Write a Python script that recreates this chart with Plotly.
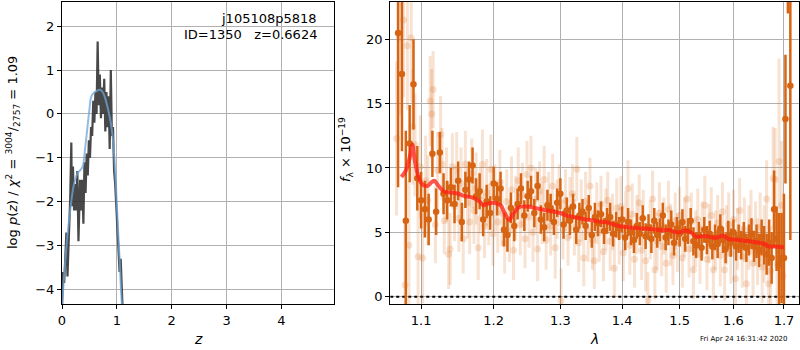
import plotly.graph_objects as go

# ---------------- left panel: redshift PDF ----------------
z_pz = [0.00, 0.02, 0.04, 0.06, 0.08, 0.10, 0.12, 0.14, 0.15, 0.17,
        0.18, 0.20, 0.22, 0.24, 0.26, 0.28, 0.30, 0.33, 0.35, 0.37,
        0.39, 0.41, 0.43, 0.45, 0.47, 0.49, 0.51, 0.53, 0.55, 0.57,
        0.59, 0.61, 0.63, 0.65, 0.67, 0.69, 0.71, 0.73, 0.75, 0.77,
        0.79, 0.81, 0.83, 0.85, 0.87, 0.89, 0.91, 0.93, 0.95, 0.97,
        0.99, 1.01, 1.03, 1.05, 1.07, 1.09, 1.11]
logp = [-4.4, -3.6, -3.85, -3.4, -2.7, -3.7, -3.0, -2.3, -1.9, -0.65,
        -2.1, -1.2, -2.2, -1.6, -2.2, -1.3, -2.9, -1.5, -2.2, -1.5,
        -2.5, -1.1, -1.8, -0.9, -1.4, -0.6, -1.0, -0.3, -0.5, 0.3,
        -0.2, 0.5, 0.0, 1.65, 0.2, 0.9, -0.1, 0.6, 0.0, 0.8,
        -0.4, 0.5, -0.3, 0.4, -0.8, 1.0, -0.5, -0.3, -1.3, -1.6,
        -2.1, -2.6, -3.1, -3.6, -3.3, -4.0, -4.6]

z_smooth = [0.00, 0.05, 0.11, 0.15, 0.20, 0.25, 0.29, 0.34, 0.38, 0.42,
            0.46, 0.50, 0.535, 0.58, 0.63, 0.69, 0.74, 0.79, 0.84, 0.89,
            0.93, 0.96, 0.99, 1.02, 1.05, 1.08, 1.11]
logp_smooth = [-4.4, -3.5, -2.63, -2.2, -1.72, -1.45, -1.34, -1.27, -1.19, -0.8,
               -0.35, 0.1, 0.4, 0.48, 0.52, 0.55, 0.5, 0.35, 0.1, -0.2,
               -0.6, -1.1, -1.8, -2.6, -3.3, -4.1, -4.6]

# ---------------- right panel: spectrum ----------------
lam_dark = [1.070, 1.075, 1.080, 1.085, 1.090, 1.095, 1.100, 1.105, 1.110, 1.115,
            1.120, 1.125, 1.130, 1.135, 1.140, 1.145, 1.150, 1.155, 1.160, 1.165,
            1.170, 1.175, 1.180, 1.185, 1.190, 1.195, 1.200, 1.205, 1.210, 1.215,
            1.220, 1.225, 1.230, 1.235, 1.240, 1.245, 1.250, 1.255, 1.260, 1.265,
            1.270, 1.275, 1.280, 1.285, 1.290, 1.295, 1.300, 1.305, 1.310, 1.315,
            1.320, 1.325, 1.330, 1.335, 1.340, 1.345, 1.350, 1.355, 1.360, 1.365,
            1.370, 1.375, 1.380, 1.385, 1.390, 1.395, 1.400, 1.405, 1.410, 1.415,
            1.420, 1.425, 1.430, 1.435, 1.440, 1.445, 1.450, 1.455, 1.460, 1.465,
            1.470, 1.475, 1.480, 1.485, 1.490, 1.495, 1.500, 1.505, 1.510, 1.515,
            1.520, 1.525, 1.530, 1.535, 1.540, 1.545, 1.550, 1.555, 1.560, 1.565,
            1.570, 1.575, 1.580, 1.585, 1.590, 1.595, 1.600, 1.605, 1.610, 1.615,
            1.620, 1.625, 1.630, 1.635, 1.640, 1.645, 1.650, 1.655, 1.660, 1.665,
            1.670, 1.675, 1.680, 1.685, 1.690, 1.695, 1.700, 1.703, 1.708, 1.713]
flux_dark = [20.5, 17.3, 5.9, 11.9, 16.5, 9.2, 7.5, 6.8, 6.0, 11.1,
             6.6, 11.2, 8.0, 7.5, 8.5, 7.2, 9.0, 5.8, 8.3, 9.1,
             10.2, 7.8, 8.2, 6.0, 7.4, 6.5, 8.8, 7.6, 8.4, 5.2,
             4.8, 6.9, 5.5, 7.2, 8.4, 6.3, 7.8, 8.2, 6.5, 8.6,
             6.0, 5.4, 7.1, 6.9, 5.8, 7.3, 8.0, 5.6, 6.7, 5.9,
             7.0, 5.2, 6.3, 6.6, 5.5, 6.9, 4.8, 6.2, 5.7, 6.4,
             5.1, 5.9, 6.2, 4.9, 5.6, 5.3, 6.0, 4.6, 5.8, 5.0,
             4.4, 5.5, 4.9, 6.1, 4.7, 5.4, 4.5, 5.9, 4.8, 5.2,
             6.3, 4.6, 5.0, 5.6, 4.2, 5.3, 4.9, 5.8, 4.5, 5.1,
             5.9, 4.3, 4.0, 4.8, 3.8, 5.2, 4.4, 4.9, 3.9, 4.6,
             4.1, 5.3, 4.4, 3.7, 4.8, 4.2, 5.0, 3.9, 4.5, 4.0,
             4.7, 3.8, 4.4, 4.9, 3.9, 4.3, 3.6, 4.6, 4.0, 3.3,
             4.2, 3.0, 6.8, 4.5, 2.5, 3.0, 3.0, 13.8, 30.0, 16.4]
err_dark = [12.0, 6.0, 7.0, 3.0, 3.5, 2.5, 2.2, 2.2, 2.0, 1.8,
            1.8, 1.6, 1.6, 1.5, 1.5, 1.5, 1.5, 1.5, 1.4, 1.4,
            1.4, 1.4, 1.4, 1.3, 1.3, 1.3, 1.3, 1.3, 1.3, 1.3,
            1.3, 1.2, 1.2, 1.2, 1.2, 1.2, 1.2, 1.2, 1.1, 1.1,
            1.1, 1.1, 1.2, 1.1, 1.0, 1.1, 1.2, 1.1, 1.0, 1.1,
            1.0, 1.1, 1.0, 1.0, 1.1, 1.0, 1.0, 1.1, 1.0, 1.0,
            1.0, 1.0, 1.1, 1.0, 1.0, 0.9, 1.0, 1.0, 1.1, 1.0,
            1.0, 1.0, 0.9, 1.0, 1.0, 1.0, 1.1, 1.0, 1.0, 0.9,
            1.0, 1.0, 1.0, 1.1, 1.0, 0.9, 1.0, 1.0, 1.0, 1.0,
            1.0, 1.1, 1.0, 1.0, 1.0, 1.0, 1.1, 1.0, 1.0, 1.0,
            1.1, 1.1, 1.0, 1.1, 1.1, 1.1, 1.0, 1.1, 1.1, 1.1,
            1.1, 1.1, 1.2, 1.2, 1.2, 1.3, 1.3, 1.4, 1.5, 1.6,
            1.8, 2.0, 3.0, 2.5, 4.0, 3.5, 5.0, 5.0, 8.0, 12.0]

lam_light = [1.068, 1.072, 1.077, 1.079, 1.082, 1.084, 1.087, 1.089, 1.092, 1.096,
             1.099, 1.102, 1.106, 1.109, 1.112, 1.114, 1.116, 1.119, 1.122, 1.126,
             1.128, 1.131, 1.134, 1.137, 1.139, 1.142, 1.145, 1.148, 1.151, 1.154,
             1.157, 1.160, 1.163, 1.166, 1.169, 1.172, 1.175, 1.178, 1.181, 1.184,
             1.187, 1.190, 1.193, 1.196, 1.199, 1.202, 1.206, 1.209, 1.212, 1.216,
             1.219, 1.223, 1.226, 1.229, 1.232, 1.236, 1.239, 1.242, 1.246, 1.249,
             1.252, 1.255, 1.258, 1.262, 1.265, 1.268, 1.272, 1.275, 1.278, 1.282,
             1.285, 1.288, 1.292, 1.295, 1.298, 1.301, 1.304, 1.308, 1.312, 1.315,
             1.319, 1.322, 1.326, 1.329, 1.333, 1.337, 1.340, 1.344, 1.347, 1.351,
             1.354, 1.358, 1.362, 1.365, 1.369, 1.373, 1.376, 1.380, 1.384, 1.387,
             1.391, 1.395, 1.398, 1.402, 1.406, 1.410, 1.413, 1.417, 1.421, 1.425,
             1.429, 1.433, 1.436, 1.440, 1.444, 1.448, 1.452, 1.456, 1.460, 1.464,
             1.468, 1.472, 1.476, 1.480, 1.484, 1.488, 1.492, 1.496, 1.500, 1.505,
             1.509, 1.513, 1.517, 1.521, 1.525, 1.529, 1.533, 1.537, 1.541, 1.546,
             1.550, 1.554, 1.558, 1.562, 1.566, 1.570, 1.575, 1.579, 1.583, 1.587,
             1.591, 1.595, 1.600, 1.604, 1.608, 1.612, 1.617, 1.621, 1.625, 1.630,
             1.634, 1.638, 1.643, 1.647, 1.652, 1.656, 1.660, 1.665, 1.669, 1.673,
             1.678, 1.682, 1.686, 1.690, 1.695, 1.698]
flux_light = [12.3, 20.1, 21.5, 0.9, 19.5, 4.0, 20.1, 13.2, 11.8, 3.1,
              10.1, 3.0, 9.0, 7.5, 15.2, 14.2, 16.1, 5.6, 9.8, 12.6,
              10.3, 5.9, 8.7, 3.3, 3.7, 10.1, 7.0, 9.9, 6.1, 8.8,
              4.5, 10.3, 7.3, 5.8, 9.6, 6.7, 8.4, 3.8, 7.5, 10.3,
              5.5, 8.1, 6.4, 9.9, 4.9, 7.7, 5.8, 8.9, 6.5, 4.2,
              7.4, 5.1, 8.3, 3.6, 6.9, 9.0, 5.6, 7.9, 4.5, 9.5,
              6.2, 10.0, 5.0, 7.6, 3.7, 8.2, 6.5, 9.1, 4.4, 7.3,
              5.5, 8.6, 3.8, 6.8, 7.9, -0.3, 5.2, 7.5, 4.6, 6.9,
              8.0, 5.4, 9.9, 4.2, 6.7, 3.0, 7.4, 5.1, 8.6, 4.4,
              2.8, 6.5, 5.0, 7.2, 3.5, 6.0, 7.5, 4.3, 5.8, 2.2,
              6.9, 4.7, 7.0, 3.4, 5.9, 8.4, 4.0, 6.4, 2.9, 5.6,
              7.3, 3.6, 6.1, 2.8, -0.3, 5.2, 7.6, 2.1, 4.3, 6.5,
              3.9, 5.5, 2.6, 6.8, 4.8, 3.2, 5.9, 4.2, 6.3, 3.0,
              5.4, 7.6, 3.7, 5.8, 2.1, 4.5, 6.0, 3.3, 5.2, 7.1,
              2.9, 4.9, 6.3, 2.1, 4.4, 5.7, 3.2, 6.6, 2.1, 4.8,
              5.6, 3.4, 6.0, 1.4, 4.5, 6.7, 3.1, 5.2, 1.0, 4.6,
              5.8, 2.6, 4.9, 3.5, 5.4, 2.3, 4.1, 7.6, 1.0, 2.0,
              9.2, 9.1, 2.5, 10.5, 7.1, 1.6]
err_light = [6.0, 6.0, 6.0, 5.0, 5.0, 5.0, 5.0, 4.5, 4.0, 4.0,
             4.0, 3.5, 3.5, 3.5, 3.5, 3.5, 3.0, 3.0, 3.0, 3.0,
             2.8, 2.6, 2.9, 2.7, 2.8, 2.6, 2.7, 2.9, 2.6, 2.8,
             2.7, 2.6, 2.8, 2.5, 2.7, 2.6, 2.8, 2.5, 2.6, 2.7,
             2.5, 2.6, 2.4, 2.7, 2.5, 2.6, 2.4, 2.5, 2.6, 2.4,
             2.5, 2.4, 2.6, 2.3, 2.5, 2.6, 2.4, 2.5, 2.3, 2.6,
             2.4, 2.5, 2.3, 2.4, 2.5, 2.3, 2.4, 2.6, 2.3, 2.4,
             2.3, 2.5, 2.4, 2.3, 2.4, 2.5, 2.3, 2.4, 2.2, 2.4,
             2.3, 2.2, 2.5, 2.3, 2.4, 2.2, 2.3, 2.4, 2.2, 2.3,
             2.2, 2.4, 2.3, 2.2, 2.3, 2.4, 2.2, 2.3, 2.2, 2.3,
             2.3, 2.2, 2.4, 2.2, 2.3, 2.2, 2.3, 2.4, 2.2, 2.3,
             2.2, 2.3, 2.2, 2.4, 2.2, 2.3, 2.2, 2.3, 2.2, 2.4,
             2.3, 2.2, 2.3, 2.2, 2.4, 2.3, 2.2, 2.3, 2.2, 2.3,
             2.3, 2.4, 2.2, 2.3, 2.3, 2.2, 2.4, 2.3, 2.2, 2.3,
             2.4, 2.3, 2.2, 2.4, 2.3, 2.2, 2.4, 2.3, 2.4, 2.3,
             2.5, 2.4, 2.3, 2.5, 2.4, 2.5, 2.4, 2.5, 2.6, 2.5,
             2.5, 2.6, 2.5, 2.6, 2.7, 2.8, 3.0, 3.0, 3.5, 3.5,
             4.0, 4.0, 4.0, 8.0, 5.0, 5.0]

lam_model = [1.0743, 1.080, 1.085, 1.0886, 1.092, 1.097, 1.102, 1.108, 1.114, 1.118,
             1.122, 1.130, 1.140, 1.150, 1.160, 1.170, 1.180, 1.185, 1.190, 1.200,
             1.210, 1.215, 1.2227, 1.228, 1.235, 1.240, 1.250, 1.260, 1.270, 1.280,
             1.290, 1.300, 1.310, 1.320, 1.330, 1.340, 1.350, 1.360, 1.370, 1.380,
             1.390, 1.400, 1.410, 1.420, 1.430, 1.440, 1.450, 1.460, 1.470, 1.480,
             1.490, 1.500, 1.510, 1.520, 1.530, 1.540, 1.550, 1.560, 1.570, 1.580,
             1.590, 1.600, 1.620, 1.640, 1.660, 1.670, 1.680, 1.700]
flux_model = [9.3, 9.8, 10.8, 11.8, 10.5, 9.2, 8.7, 8.6, 8.9, 9.0,
              8.7, 8.2, 8.1, 8.0, 7.8, 7.7, 7.4, 7.1, 7.2, 7.3,
              7.1, 6.6, 5.96, 6.4, 6.9, 7.0, 7.0, 6.9, 6.8, 6.7,
              6.6, 6.5, 6.3, 6.2, 6.1, 6.0, 5.95, 5.85, 5.8, 5.7,
              5.55, 5.45, 5.4, 5.35, 5.3, 5.3, 5.25, 5.2, 5.15, 5.2,
              5.05, 5.0, 5.15, 5.0, 4.65, 4.7, 4.7, 4.6, 4.6, 4.75,
              4.5, 4.45, 4.35, 4.25, 4.1, 3.9, 3.9, 3.85]

zero_lam = [1.06, 1.73]
zero_flux = [0, 0]

FONT = "DejaVu Sans"
DARK = "rgb(214,100,18)"
LIGHT = "rgba(222,110,30,0.2)"
GRID = "#b0b0b0"

fig = go.Figure()

fig.add_trace(go.Scatter(x=z_pz, y=logp, mode="lines",
                         line=dict(color="rgba(40,40,40,0.85)", width=2.2),
                         xaxis="x", yaxis="y", showlegend=False, hoverinfo="skip"))
fig.add_trace(go.Scatter(x=z_smooth, y=logp_smooth, mode="lines",
                         line=dict(color="rgba(110,165,215,0.75)", width=2, shape="spline"),
                         xaxis="x", yaxis="y", showlegend=False, hoverinfo="skip"))

fig.add_trace(go.Scatter(x=zero_lam, y=zero_flux, mode="lines",
                         line=dict(color="black", width=2, dash="dot"),
                         xaxis="x2", yaxis="y2", showlegend=False, hoverinfo="skip"))
fig.add_trace(go.Scatter(x=lam_light, y=flux_light, mode="markers",
                         marker=dict(color=LIGHT, size=7),
                         error_y=dict(type="data", array=err_light, color=LIGHT,
                                      thickness=3, width=0),
                         xaxis="x2", yaxis="y2", showlegend=False, hoverinfo="skip"))
fig.add_trace(go.Scatter(x=lam_dark, y=flux_dark, mode="markers",
                         marker=dict(color=DARK, size=6.5),
                         error_y=dict(type="data", array=err_dark, color=DARK,
                                      thickness=2.5, width=0),
                         xaxis="x2", yaxis="y2", showlegend=False, hoverinfo="skip"))
fig.add_trace(go.Scatter(x=lam_model, y=flux_model, mode="lines",
                         line=dict(color="rgba(255,30,20,0.75)", width=4, shape="spline"),
                         xaxis="x2", yaxis="y2", showlegend=False, hoverinfo="skip"))

axis_common = dict(showgrid=True, gridcolor=GRID, gridwidth=1, showline=True,
                   linecolor="black", linewidth=1.2, mirror=True, ticks="outside",
                   ticklen=4, tickcolor="black", zeroline=False, automargin=False,
                   tickfont=dict(family=FONT, size=13, color="black"))

fig.update_layout(
    width=800, height=350,
    margin=dict(l=0, r=0, t=0, b=0, autoexpand=False),
    paper_bgcolor="white", plot_bgcolor="white",
    font=dict(family=FONT, color="black"),
    xaxis=dict(domain=[0.0775, 0.4175], range=[0, 4.96],
               tickvals=[0, 1, 2, 3, 4], anchor="y", **axis_common),
    yaxis=dict(domain=[0.1314, 0.9943], range=[-4.33, 2.55],
               tickvals=[-4, -3, -2, -1, 0, 1, 2], anchor="x", **axis_common),
    xaxis2=dict(domain=[0.4879, 0.9985], type="log", range=[0.02535, 0.23817],
                tickvals=[1.1, 1.2, 1.3, 1.4, 1.5, 1.6, 1.7],
                ticktext=["1.1", "1.2", "1.3", "1.4", "1.5", "1.6", "1.7"],
                anchor="y2", **axis_common),
    yaxis2=dict(domain=[0.1314, 0.9943], range=[-0.57, 22.9],
                tickvals=[0, 5, 10, 15, 20], anchor="x2", **axis_common),
)

def px_ann(text, x, y, size=13, xanchor="center", yanchor="middle", angle=0):
    fig.add_annotation(text=text, x=x / 800, y=1 - y / 350, xref="paper", yref="paper",
                       showarrow=False, xanchor=xanchor, yanchor=yanchor,
                       textangle=angle, font=dict(family=FONT, size=size, color="black"))

px_ann("<i>z</i>", 198, 339, size=14)
px_ann("<i>λ</i>", 594, 339, size=14)
px_ann("log <i>p</i>(<i>z</i>) / <i>χ</i><sup>2</sup> = <sup>3004</sup>/<sub>2757</sub> = 1.09",
       13, 153, size=13, angle=-90)
px_ann("<i>f</i><sub>λ</sub> × 10<sup>−19</sup>", 346, 150, size=13, angle=-90)
px_ann("j105108p5818", 319, 19, size=13, xanchor="right")
px_ann("ID=1350\u00a0\u00a0\u00a0z=0.6624", 319, 35, size=13, xanchor="right")
px_ann("Fri Apr 24 16:31:42 2020", 744, 339, size=7)

fig.write_html("out.html", config={"displayModeBar": False},
               post_script="document.body.style.margin='0px';document.body.style.overflow='hidden';")
